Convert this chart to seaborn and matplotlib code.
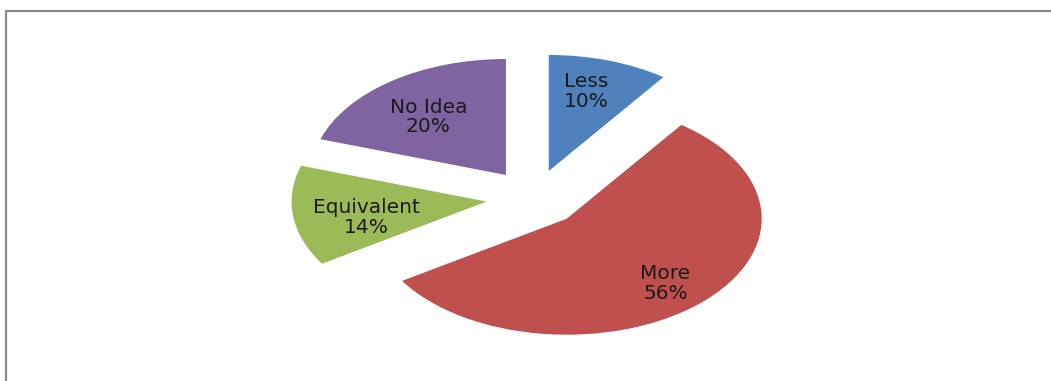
import math
import matplotlib
matplotlib.use("Agg")
import matplotlib.pyplot as plt
from matplotlib.lines import Line2D
import seaborn as sns

sns.set_theme(style="white")
plt.rcParams["font.family"] = ["DejaVu Sans"]

categories = ["Less", "More", "Equivalent", "No Idea"]
shares = [10, 56, 14, 20]
colors = ["#4F81BD", "#C0504D", "#9BBB59", "#8064A2"]

W, H = 1051, 381
fig = plt.figure(figsize=(W / 100, H / 100), dpi=100)
fig.patch.set_facecolor("white")

# pie is drawn as an ellipse: horizontal radius 195 px, vertical 116 px
cx, cy = 534, 198
rx, ry = 195, 116
k = 1.5
ax = fig.add_axes([(cx - k * rx) / W, (H - cy - k * ry) / H,
                   2 * k * rx / W, 2 * k * ry / H])

# label placement inside each slice: distance from slice apex, plus a
# small nudge in pixels (x right, y up)
label_dist = [0.72, 0.74, 0.63, 0.66]
label_nudge = [(-6, 0), (0, -2), (2, -7), (-2, -4)]

labels = [f"{c}\n{v}%" for c, v in zip(categories, shares)]
wedges, texts = ax.pie(
    shares,
    colors=colors,
    explode=[0.245] * len(shares),
    startangle=90,
    counterclock=False,
    labels=labels,
    labeldistance=0.7,
    textprops=dict(fontsize=14.5, color="#1a1a1a", ha="center", va="center",
                   linespacing=1.05),
    wedgeprops=dict(linewidth=0),
)
for w, t, d, (nx, ny) in zip(wedges, texts, label_dist, label_nudge):
    th = math.radians((w.theta1 + w.theta2) / 2)
    x0, y0 = w.center
    t.set_position((x0 + d * math.cos(th) + nx / rx,
                    y0 + d * math.sin(th) + ny / ry))
    t.set_ha("center")
    t.set_va("center")

ax.set_aspect("auto")
ax.set_xlim(-k, k)
ax.set_ylim(-k, k)
ax.axis("off")

# chart frame (top and left edges visible)
fig.add_artist(Line2D([5.5 / W, 5.5 / W], [0, (H - 10.5) / H],
                      transform=fig.transFigure, color="#8a8a8a", lw=1.6))
fig.add_artist(Line2D([5.5 / W, 1], [(H - 10.5) / H, (H - 10.5) / H],
                      transform=fig.transFigure, color="#8a8a8a", lw=1.6))

fig.savefig("out.png", dpi=100, facecolor="white")
